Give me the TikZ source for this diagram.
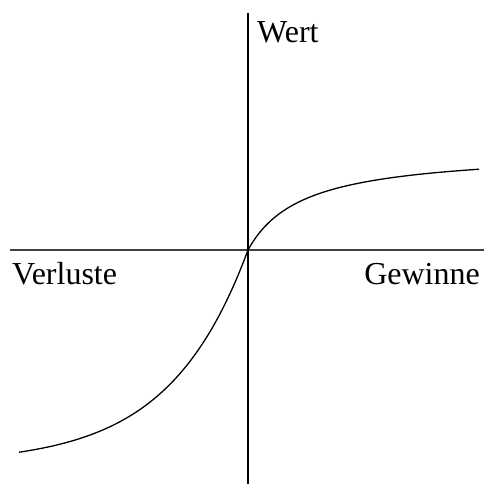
\documentclass[tikz,border=0pt]{standalone}
\usepackage{fontspec}
\setmainfont{Liberation Serif}
\begin{document}
\begin{tikzpicture}[x=1pt,y=-1pt,
  lbl/.style={inner sep=0pt,font=\fontsize{32}{32}\selectfont},
  axis/.style={line width=1.6pt},
  curve/.style={line width=1.3pt}]
\useasboundingbox (0,0) rectangle (484,484);
\coordinate (top) at (248,13);
\coordinate (bot) at (248,484);
\coordinate (left) at (10,250);
\coordinate (right) at (484,250);
\draw[axis,black!75] (left) -- (right);
\draw[axis] (top) -- (bot);
\draw[curve,smooth] plot[domain=0:231,samples=80] ({248+\x},{250-(\x/(\x+55))*100});
\draw[curve,smooth] plot[domain=-229:0,samples=80] ({248+\x},{250+214*(1-exp(\x/79))});
\node[lbl,anchor=base west] (wert) at (257,43) {Wert};
\node[lbl,anchor=base west] (verl) at (12,284) {Verluste};
\node[lbl,anchor=base east] (gew) at (480,284) {Gewinne};
\end{tikzpicture}
\end{document}
